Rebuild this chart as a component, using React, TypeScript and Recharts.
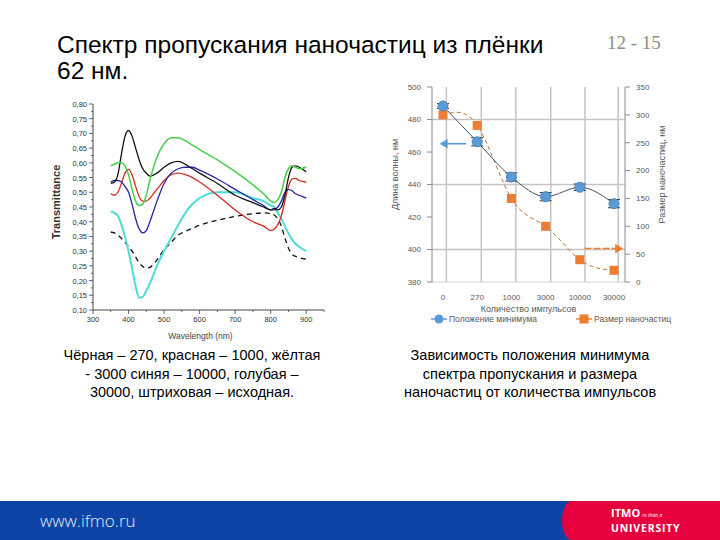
import React from 'react';
import { LineChart, Line, XAxis, YAxis, CartesianGrid, ErrorBar, ReferenceLine } from 'recharts';

// ---- left chart: transmittance spectra ----
const wavelengths = [350, 360, 370, 380, 390, 400, 410, 420, 430, 440, 450, 460, 480, 500, 520, 540, 560, 580, 600, 650, 700, 750, 780, 800, 810, 820, 830, 840, 850, 860, 870, 880, 900];
const black270 = [0.53, 0.535, 0.56, 0.63, 0.69, 0.71, 0.69, 0.65, 0.61, 0.58, 0.565, 0.555, 0.565, 0.585, 0.6, 0.605, 0.595, 0.58, 0.565, 0.53, 0.49, 0.465, 0.45, 0.44, 0.445, 0.44, 0.45, 0.49, 0.55, 0.585, 0.59, 0.585, 0.57];
const red1000 = [0.495, 0.49, 0.5, 0.53, 0.565, 0.578, 0.56, 0.52, 0.485, 0.47, 0.47, 0.48, 0.51, 0.54, 0.56, 0.565, 0.56, 0.55, 0.535, 0.49, 0.44, 0.4, 0.385, 0.37, 0.375, 0.39, 0.42, 0.47, 0.52, 0.545, 0.547, 0.54, 0.535];
const green3000 = [0.59, 0.595, 0.6, 0.6, 0.59, 0.56, 0.51, 0.47, 0.455, 0.46, 0.49, 0.54, 0.62, 0.665, 0.685, 0.685, 0.675, 0.66, 0.645, 0.61, 0.57, 0.525, 0.495, 0.47, 0.465, 0.475, 0.5, 0.55, 0.58, 0.59, 0.585, 0.58, 0.585];
const blue10000 = [0.535, 0.54, 0.54, 0.535, 0.52, 0.5, 0.46, 0.41, 0.375, 0.362, 0.37, 0.4, 0.47, 0.53, 0.565, 0.58, 0.585, 0.585, 0.575, 0.545, 0.51, 0.475, 0.455, 0.44, 0.44, 0.45, 0.47, 0.5, 0.51, 0.505, 0.495, 0.49, 0.48];
const cyan30000 = [0.435, 0.43, 0.42, 0.39, 0.35, 0.3, 0.24, 0.18, 0.142, 0.145, 0.165, 0.19, 0.25, 0.3, 0.345, 0.39, 0.43, 0.46, 0.48, 0.5, 0.5, 0.48, 0.47, 0.455, 0.45, 0.43, 0.41, 0.385, 0.36, 0.34, 0.325, 0.315, 0.3];
const initialFilm = [0.365, 0.362, 0.355, 0.343, 0.33, 0.315, 0.3, 0.28, 0.26, 0.248, 0.242, 0.245, 0.27, 0.305, 0.33, 0.355, 0.367, 0.378, 0.388, 0.405, 0.418, 0.427, 0.43, 0.428, 0.423, 0.41, 0.385, 0.345, 0.31, 0.29, 0.282, 0.278, 0.273];

const yTicks = [0.1, 0.125, 0.15, 0.175, 0.2, 0.225, 0.25, 0.275, 0.3, 0.325, 0.35, 0.375, 0.4, 0.425, 0.45, 0.475, 0.5, 0.525, 0.55, 0.575, 0.6, 0.625, 0.65, 0.675, 0.7, 0.725, 0.75, 0.775, 0.8];
const xTicks = [300, 350, 400, 450, 500, 550, 600, 650, 700, 750, 800, 850, 900, 950];

const spectrumData = wavelengths.map((w, i) => ({
    w,
    black: black270[i],
    red: red1000[i],
    green: green3000[i],
    blue: blue10000[i],
    cyan: cyan30000[i],
    dash: initialFilm[i],
}));

// ---- right chart: minimum position / particle size vs pulses ----
const pulses = ['0', '270', '1000', '3000', '10000', '30000'];
const minimumNm = [488.3, 466.3, 444.6, 432.5, 438.3, 428.2];
const minimumErr = [1.5, 2.5, 2.5, 2.5, 2, 2.5];
const particleSize = [300, 281, 150, 100, 40, 21];
const nmTicks = [380, 400, 420, 440, 460, 480, 500];
const sizeTicks = [0, 50, 100, 150, 200, 250, 300, 350];
const gridTicks = [-0.15, 0.1, 0.29, 0.68, 0.88, 1.12, 1.27, 1.71, 1.93, 2.13, 2.29, 2.72, 2.88, 3.15, 3.35, 3.72, 3.9, 4.15, 4.4, 4.75, 4.92, 5.12];

const pulseData = pulses.map((p, i) => ({
    idx: i,
    pulses: p,
    minimum: minimumNm[i],
    err: minimumErr[i],
    size: particleSize[i],
}));

const FONT = '"Liberation Sans", Arial, sans-serif';

const isMajor = (v: number) => Math.round(v * 1000) % 50 === 0;

const SpecYTick = (props: any) => {
    const { x, y, payload } = props;
    const major = isMajor(payload.value);
    return (
        <g>
            <line x1={x} y1={y} x2={x - (major ? 4 : 2)} y2={y} stroke="#444" strokeWidth={0.8} />
            {major && (
                <text x={x - 6} y={y + 3} textAnchor="end" fontSize={7.5} fill="#333" fontFamily={FONT}>
                    {payload.value.toFixed(2).replace('.', ',')}
                </text>
            )}
        </g>
    );
};

const SpecXTick = (props: any) => {
    const { x, y, payload } = props;
    const major = payload.value % 100 === 0;
    return (
        <g>
            <line x1={x} y1={y} x2={x} y2={y + (major ? 4 : 2)} stroke="#444" strokeWidth={0.8} />
            {major && payload.value <= 900 && (
                <text x={x} y={y + 12} textAnchor="middle" fontSize={7.5} fill="#333" fontFamily={FONT}>
                    {payload.value}
                </text>
            )}
        </g>
    );
};

const SquareDot = (props: any) => {
    const { cx, cy } = props;
    if (cx == null || cy == null) return null;
    return <rect x={cx - 4.5} y={cy - 4.5} width={9} height={9} fill="#ED7D31" />;
};

const Arrow = (color: string, dash?: string) => (p: any) => (
    <line
        x1={p.x1}
        y1={p.y1}
        x2={p.x2}
        y2={p.y2}
        stroke={color}
        strokeWidth={1.6}
        strokeDasharray={dash}
        markerEnd={`url(#head-${color.slice(1)})`}
    />
);

const SpectrumChart = () => (
    <LineChart width={295} height={255} data={spectrumData} margin={{ top: 14, right: 11, bottom: 0, left: 18 }}>
        <XAxis
            dataKey="w"
            type="number"
            domain={[300, 950]}
            ticks={xTicks}
            interval={0}
            height={35}
            tick={<SpecXTick />}
            tickLine={false}
            tickSize={0}
            tickMargin={0}
            stroke="#444"
            label={(p: any) => (
                <text x={p.viewBox.x + p.viewBox.width / 2 - 8} y={p.viewBox.y + 29} textAnchor="middle" fontSize={8.5} fill="#444" fontFamily={FONT}>
                    Wavelength (nm)
                </text>
            )}
        />
        <YAxis
            type="number"
            domain={[0.1, 0.8]}
            ticks={yTicks}
            interval={0}
            width={35}
            tick={<SpecYTick />}
            tickLine={false}
            tickSize={0}
            tickMargin={0}
            stroke="#444"
            label={(p: any) => {
                const cx = p.viewBox.x - 1;
                const cy = p.viewBox.y + p.viewBox.height / 2 - 5;
                return (
                    <text x={cx} y={cy} transform={`rotate(-90, ${cx}, ${cy})`} textAnchor="middle" dominantBaseline="middle" fontSize={11} fontWeight="bold" fill="#333" fontFamily={FONT}>
                        Transmittance
                    </text>
                );
            }}
        />
        <Line type="monotone" dataKey="dash" stroke="#111" strokeWidth={1.3} strokeDasharray="5 4" dot={false} isAnimationActive={false} />
        <Line type="monotone" dataKey="cyan" stroke="#4DDCD8" strokeWidth={2} dot={false} isAnimationActive={false} />
        <Line type="monotone" dataKey="red" stroke="#D42A22" strokeWidth={1.3} dot={false} isAnimationActive={false} />
        <Line type="monotone" dataKey="blue" stroke="#2525A8" strokeWidth={1.3} dot={false} isAnimationActive={false} />
        <Line type="monotone" dataKey="black" stroke="#111" strokeWidth={1.3} dot={false} isAnimationActive={false} />
        <Line type="monotone" dataKey="green" stroke="#45D045" strokeWidth={1.5} dot={false} isAnimationActive={false} />
    </LineChart>
);

const PulseChart = () => (
    <LineChart width={310} height={260} data={pulseData} margin={{ top: 17, right: 20, bottom: 18, left: 12 }}>
        <defs>
            <marker id="head-5B9BD5" markerWidth="6" markerHeight="6" refX="4" refY="3" orient="auto">
                <path d="M0,0 L5,3 L0,6 z" fill="#5B9BD5" />
            </marker>
            <marker id="head-ED7D31" markerWidth="6" markerHeight="6" refX="4" refY="3" orient="auto">
                <path d="M0,0 L5,3 L0,6 z" fill="#ED7D31" />
            </marker>
        </defs>
        <XAxis xAxisId="grid" dataKey="idx" type="number" domain={[-0.32, 5.32]} hide />
        <CartesianGrid
            xAxisId="grid"
            yAxisId="nm"
            verticalValues={gridTicks}
            horizontalValues={[400, 440, 480]}
            stroke="#c4c4c4"
            strokeWidth={1.5}
        />
        <XAxis
            dataKey="pulses"
            padding={{ left: 11, right: 11 }}
            height={30}
            tickLine={false}
            tickMargin={6}
            stroke="#d0d0d0"
            tick={{ fontSize: 8, fill: '#595959', fontFamily: FONT }}
            label={(p: any) => (
                <text x={p.viewBox.x + p.viewBox.width / 2} y={p.viewBox.y + 30} textAnchor="middle" fontSize={9} fill="#595959" fontFamily={FONT}>
                    Количество импульсов
                </text>
            )}
        />
        <YAxis
            yAxisId="nm"
            domain={[380, 500]}
            ticks={nmTicks}
            interval={0}
            width={40}
            tickSize={5}
            tickMargin={6}
            stroke="#8c8c8c"
            tick={{ fontSize: 8, fill: '#595959', fontFamily: FONT }}
            label={(p: any) => {
                const cx = p.viewBox.x + 4;
                const cy = p.viewBox.y + p.viewBox.height / 2 - 10;
                return (
                    <text x={cx} y={cy} transform={`rotate(-90, ${cx}, ${cy})`} textAnchor="middle" dominantBaseline="middle" fontSize={9} fill="#595959" fontFamily={FONT}>
                        Длина волны, нм
                    </text>
                );
            }}
        />
        <YAxis
            yAxisId="size"
            orientation="right"
            domain={[0, 350]}
            ticks={sizeTicks}
            interval={0}
            width={45}
            tickSize={5}
            tickMargin={6}
            stroke="#8c8c8c"
            tick={{ fontSize: 8, fill: '#595959', fontFamily: FONT }}
            label={(p: any) => {
                const cx = p.viewBox.x + 38;
                const cy = p.viewBox.y + p.viewBox.height / 2 - 10;
                return (
                    <text x={cx} y={cy} transform={`rotate(-90, ${cx}, ${cy})`} textAnchor="middle" dominantBaseline="middle" fontSize={9} fill="#595959" fontFamily={FONT}>
                        Размер наночастиц, нм
                    </text>
                );
            }}
        />
        <ReferenceLine
            xAxisId="grid"
            yAxisId="nm"
            segment={[{ x: 0.68, y: 465.1 }, { x: -0.05, y: 465.1 }]}
            shape={Arrow('#5B9BD5')}
        />
        <ReferenceLine
            xAxisId="grid"
            yAxisId="size"
            segment={[{ x: 4.14, y: 60 }, { x: 5.22, y: 60 }]}
            shape={Arrow('#ED7D31', '7 2')}
        />
        <Line
            yAxisId="size"
            type="natural"
            dataKey="size"
            stroke="#B9723E"
            strokeWidth={1}
            strokeDasharray="4 3"
            dot={<SquareDot />}
            isAnimationActive={false}
        />
        <Line
            yAxisId="nm"
            type="monotone"
            dataKey="minimum"
            stroke="#44546A"
            strokeWidth={1}
            dot={{ r: 5, fill: '#5B9BD5', stroke: '#4A86BE', strokeWidth: 1 }}
            isAnimationActive={false}
        >
            <ErrorBar dataKey="err" width={6} stroke="#333" strokeWidth={1} />
        </Line>
    </LineChart>
);

const legendText: React.CSSProperties = { fontSize: 8.5, color: '#595959', fontFamily: FONT };
const caption: React.CSSProperties = { position: 'absolute', top: 346, width: 320, textAlign: 'center', fontSize: 14.5, lineHeight: '18.5px', color: '#000' };
const titleLine: React.CSSProperties = { position: 'absolute', left: 57, fontSize: 24.5, lineHeight: '26px', height: 26, color: '#000', whiteSpace: 'nowrap' };

export default function App() {
    return (
        <div style={{ position: 'absolute', left: 0, top: 0, width: 720, height: 540, background: '#fff', overflow: 'hidden', fontFamily: FONT }}>
            <div style={{ ...titleLine, top: 32 }}>Спектр пропускания наночастиц из плёнки</div>
            <div style={{ ...titleLine, top: 58 }}>62 нм.</div>
            <div style={{ position: 'absolute', left: 607, top: 32, fontSize: 19, color: '#8c8c8c', fontFamily: '"Liberation Serif", "Times New Roman", serif' }}>
                12 - 15
            </div>

            <div style={{ position: 'absolute', left: 40, top: 90 }}>
                <SpectrumChart />
            </div>

            <div style={{ position: 'absolute', left: 380, top: 70 }}>
                <PulseChart />
            </div>

            {/* legend of the right chart */}
            <div style={{ position: 'absolute', left: 431, top: 313, display: 'flex', alignItems: 'center' }}>
                <svg width={16} height={12}>
                    <line x1={0} y1={6} x2={16} y2={6} stroke="#5B9BD5" strokeWidth={1.5} />
                    <circle cx={8} cy={6} r={4.5} fill="#5B9BD5" />
                </svg>
                <span style={{ ...legendText, marginLeft: 2 }}>Положение минимума</span>
            </div>
            <div style={{ position: 'absolute', left: 576, top: 313, display: 'flex', alignItems: 'center' }}>
                <svg width={16} height={12}>
                    <line x1={0} y1={6} x2={16} y2={6} stroke="#ED7D31" strokeWidth={1.5} />
                    <rect x={3.5} y={1.5} width={9} height={9} fill="#ED7D31" />
                </svg>
                <span style={{ ...legendText, marginLeft: 2 }}>Размер наночастиц</span>
            </div>

            <div style={{ ...caption, left: 32 }}>
                Чёрная – 270, красная – 1000, жёлтая
                <br />- 3000 синяя – 10000, голубая –
                <br />
                30000, штриховая – исходная.
            </div>
            <div style={{ ...caption, left: 370 }}>
                Зависимость положения минимума
                <br />
                спектра пропускания и размера
                <br />
                наночастиц от количества импульсов
            </div>

            {/* footer */}
            <div style={{ position: 'absolute', left: 0, top: 501, width: 720, height: 39, background: '#0D44A6' }} />
            <div style={{ position: 'absolute', left: 562, top: 501, width: 158, height: 39, background: '#E6003E', borderTopLeftRadius: '10px 20px', borderBottomLeftRadius: '10px 20px' }} />
            <div style={{ position: 'absolute', left: 40, top: 509, fontSize: 17, color: '#e6ebf5', fontFamily: '"Open Sans", sans-serif', fontWeight: 300 }}>
                www.ifmo.ru
            </div>
            <div style={{ position: 'absolute', left: 611, top: 506, color: '#fff', fontFamily: '"Open Sans", sans-serif', fontWeight: 700, lineHeight: '13px' }}>
                <div style={{ fontSize: 11 }}>
                    IT<span style={{ fontSize: 11 }}>MO</span>
                    <span style={{ fontSize: 5, fontWeight: 400, fontStyle: 'italic', marginLeft: 2 }}>re than a</span>
                </div>
                <div style={{ fontSize: 10.5, letterSpacing: 0.8 }}>UNIVERSITY</div>
            </div>
        </div>
    );
}
